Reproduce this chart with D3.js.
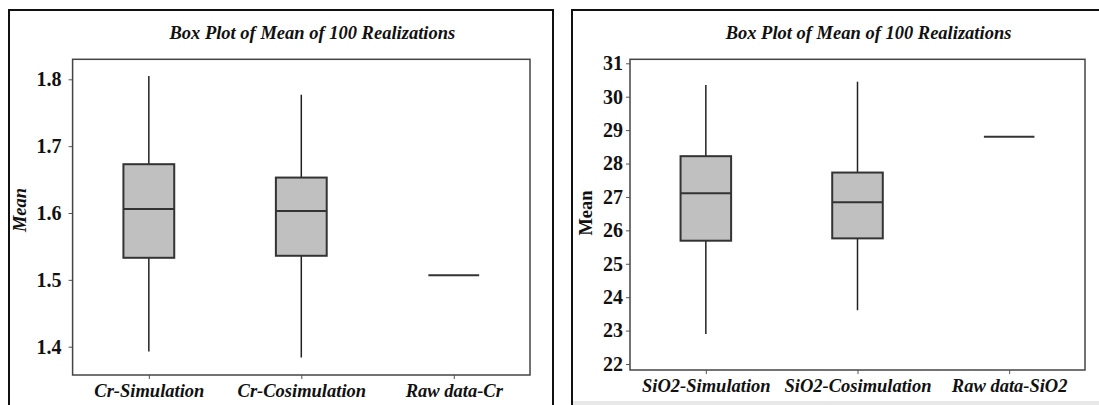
<!DOCTYPE html>
<html>
<head>
<meta charset="utf-8">
<script src="https://cdn.jsdelivr.net/npm/d3@7"></script>
<style>
  body { margin: 0; background: #fff; }
  svg text { font-family: "Liberation Serif", "Times New Roman", serif; font-weight: bold; fill: #111; }
  .frame { fill: none; stroke: #444; stroke-width: 1.5; }
  .outer { fill: none; stroke: #111; stroke-width: 2; }
  .whisker { stroke: #222; stroke-width: 1.5; }
  .box { fill: #c0c0c0; stroke: #333; stroke-width: 2; }
  .median { stroke: #333; stroke-width: 2; }
</style>
</head>
<body>
<svg id="chart" width="1099" height="405"></svg>
<script>
// Cr 数据
const crCategories = ["Cr-Simulation", "Cr-Cosimulation", "Raw data-Cr"];
const crMin    = [1.393, 1.384, 1.507];
const crQ1     = [1.533, 1.536, 1.507];
const crMedian = [1.606, 1.603, 1.507];
const crQ3     = [1.673, 1.653, 1.507];
const crMax    = [1.805, 1.777, 1.507];
const crTicks  = [1.4, 1.5, 1.6, 1.7, 1.8];

// SiO2 数据
const sioCategories = ["SiO2-Simulation", "SiO2-Cosimulation", "Raw data-SiO2"];
const sioMin    = [22.90, 23.61, 28.80];
const sioQ1     = [25.69, 25.76, 28.80];
const sioMedian = [27.11, 26.84, 28.80];
const sioQ3     = [28.22, 27.73, 28.80];
const sioMax    = [30.35, 30.45, 28.80];
const sioTicks  = [22, 23, 24, 25, 26, 27, 28, 29, 30, 31];

const title = "Box Plot of Mean of 100 Realizations";

const svg = d3.select("#chart");

// 右侧面板底部的浅灰条
svg.append("rect")
    .attr("x", 573).attr("y", 401)
    .attr("width", 526).attr("height", 4)
    .attr("fill", "#e8e8e8");

// 绘制一个面板
function drawPanel(opt) {
    const g = svg.append("g");

    // 外框
    g.append("rect").attr("class", "outer")
        .attr("x", opt.outer[0]).attr("y", opt.outer[1])
        .attr("width", opt.outer[2]).attr("height", opt.outer[3]);

    const x = d3.scalePoint()
        .domain(opt.categories)
        .range([opt.left, opt.right])
        .padding(0.5);
    const y = d3.scaleLinear()
        .domain(opt.yDomain)
        .range(opt.yRange);

    // 标题
    g.append("text")
        .attr("x", (opt.left + opt.right) / 2 + 11)
        .attr("y", 39)
        .attr("text-anchor", "middle")
        .style("font-style", "italic")
        .style("font-size", "18.5px")
        .text(title);

    // Y 轴
    const yAxis = g.append("g")
        .attr("transform", `translate(${opt.left},0)`)
        .call(d3.axisLeft(y).tickValues(opt.ticks).tickSize(4).tickPadding(opt.yPad)
            .tickFormat(opt.tickFormat));
    yAxis.select(".domain").remove();
    yAxis.selectAll("line").attr("stroke", "#555");
    yAxis.selectAll("text")
        .style("font-size", "20px")
        .style("font-family", "'Liberation Serif', serif")
        .style("font-weight", "bold")
        .attr("fill", "#111");

    // X 轴
    const xAxis = g.append("g")
        .attr("transform", `translate(0,${opt.bottom})`)
        .call(d3.axisBottom(x).tickSize(4).tickPadding(5));
    xAxis.select(".domain").remove();
    xAxis.selectAll("line").attr("stroke", "#555");
    xAxis.selectAll("text")
        .style("font-size", "18.5px")
        .style("font-style", "italic")
        .style("font-family", "'Liberation Serif', serif")
        .style("font-weight", "bold")
        .attr("fill", "#111");

    // 绘图区边框
    g.append("rect").attr("class", "frame")
        .attr("x", opt.left).attr("y", opt.top)
        .attr("width", opt.right - opt.left)
        .attr("height", opt.bottom - opt.top);

    // Y 轴标题
    g.append("text")
        .attr("transform", `translate(${opt.yLabelX},${opt.yLabelY}) rotate(-90)`)
        .attr("text-anchor", "middle")
        .attr("dy", "0.35em")
        .style("font-style", opt.yLabelItalic ? "italic" : "normal")
        .style("font-size", "18.5px")
        .text("Mean");

    const boxW = x.step() / 3;
    const data = opt.categories.map((c, i) => ({
        cat: c, min: opt.min[i], q1: opt.q1[i], med: opt.median[i], q3: opt.q3[i], max: opt.max[i]
    }));

    const boxes = g.selectAll("g.boxplot")
        .data(data)
        .enter()
        .append("g")
        .attr("class", "boxplot");

    // 须线
    boxes.filter(d => d.max > d.min)
        .append("line").attr("class", "whisker")
        .attr("x1", d => x(d.cat)).attr("x2", d => x(d.cat))
        .attr("y1", d => y(d.max)).attr("y2", d => y(d.min));

    // 箱体
    boxes.filter(d => d.q3 > d.q1)
        .append("rect").attr("class", "box")
        .attr("x", d => x(d.cat) - boxW / 2)
        .attr("width", boxW)
        .attr("y", d => y(d.q3))
        .attr("height", d => y(d.q1) - y(d.q3));

    // 中位线
    boxes.append("line").attr("class", "median")
        .attr("x1", d => x(d.cat) - boxW / 2)
        .attr("x2", d => x(d.cat) + boxW / 2)
        .attr("y1", d => y(d.med)).attr("y2", d => y(d.med));
}

drawPanel({
    outer: [9, 10, 544, 410],
    left: 72.6, right: 530, top: 59.3, bottom: 375,
    yDomain: [1.4, 1.8], yRange: [346.7, 79.3],
    ticks: crTicks, tickFormat: d3.format(".1f"), yPad: 7,
    yLabelX: 20, yLabelY: 210, yLabelItalic: true,
    categories: crCategories,
    min: crMin, q1: crQ1, median: crMedian, q3: crQ3, max: crMax
});

drawPanel({
    outer: [572, 10, 540, 410],
    left: 630, right: 1085, top: 59.3, bottom: 370,
    yDomain: [22, 31], yRange: [364, 63.3],
    ticks: sioTicks, tickFormat: d3.format("d"), yPad: 3,
    yLabelX: 586, yLabelY: 213, yLabelItalic: false,
    categories: sioCategories,
    min: sioMin, q1: sioQ1, median: sioMedian, q3: sioQ3, max: sioMax
});
</script>
</body>
</html>
